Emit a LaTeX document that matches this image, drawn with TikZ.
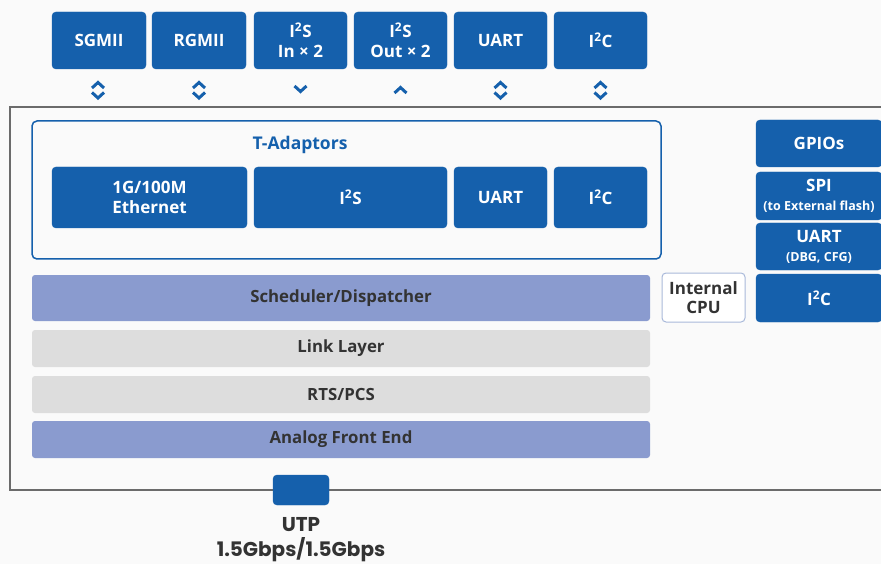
\documentclass[tikz,border=0pt]{standalone}
\usepackage{fontspec}
\setmainfont{Open Sans}
\newfontfamily\utpfont{Poppins}
\usepackage{xcolor}
\definecolor{tblue}{HTML}{1560AC}
\definecolor{schedc}{HTML}{8A9BCF}
\definecolor{layerc}{HTML}{DDDDDD}
\definecolor{framec}{HTML}{6B6B6B}
\definecolor{cpuc}{HTML}{A9B9DA}
\definecolor{txtc}{HTML}{333333}
\newcommand{\isq}{I\textsuperscript{2}}
\newcommand{\subtxt}[1]{{\fontsize{12.5}{14}\selectfont #1}}

\begin{document}
\begin{tikzpicture}[x=1pt, y=-1pt,
  blk/.style = {draw=tblue, fill=tblue, rounded corners=4pt, text=white, align=center, inner sep=0pt, font=\bfseries\fontsize{17}{20}\selectfont},
  layer/.style = {fill=#1, rounded corners=3pt, text=txtc, inner sep=0pt, minimum width=618pt, minimum height=37pt, font=\bfseries\fontsize{16.8}{19}\selectfont},
  chev/.style = {draw=tblue, line width=3pt}]
\fill[white!98!black] (0,0) rectangle (881,564);
\useasboundingbox (0,0) rectangle (881,564);

% top interfaces
\node[blk, minimum width=94pt, minimum height=57pt] (sgmii) at (99,40.5) {SGMII};
\node[blk, minimum width=94pt, minimum height=57pt] (rgmii) at (199,40.5) {RGMII};
\node[blk, minimum width=93pt, minimum height=57pt] (i2sin) at (300.5,40.5) {\isq S\\In × 2};
\node[blk, minimum width=93pt, minimum height=57pt] (i2sout) at (400.5,40.5) {\isq S\\Out × 2};
\node[blk, minimum width=93pt, minimum height=57pt] (uart) at (500.5,40.5) {UART};
\node[blk, minimum width=93pt, minimum height=57pt] (i2c) at (600.5,40.5) {\isq C};

% direction marks
\foreach \x in {98,199,500.5,600.5} {
  \draw[chev] (\x-6,88) -- (\x,82.5) -- (\x+6,88);
  \draw[chev] (\x-6,92.5) -- (\x,98) -- (\x+6,92.5);
}
\draw[chev] (300.5-6,86) -- (300.5,91.5) -- (300.5+6,86);
\draw[chev] (400.5-6,93) -- (400.5,87.5) -- (400.5+6,93);

% chip outline
\draw[framec, line width=2.5pt] (890,107) -- (10,107) -- (10,490) -- (890,490);

% T-Adaptors
\node[draw=tblue, line width=1.5pt, rounded corners=5pt, minimum width=629pt, minimum height=138pt, fill=white!98!black] (tadapt) at (346.5,190) {};
\node[text=tblue, font=\bfseries\fontsize{17.5}{20}\selectfont] (tatitle) at (300,144.5) {T-Adaptors};
\node[blk, minimum width=195pt, minimum height=61pt] (eth) at (149.5,197.5) {1G/100M\\Ethernet};
\node[blk, minimum width=193pt, minimum height=61pt] (tai2s) at (350.5,197.5) {\isq S};
\node[blk, minimum width=93pt, minimum height=61pt] (tauart) at (500.5,197.5) {UART};
\node[blk, minimum width=93pt, minimum height=61pt] (tai2c) at (600.5,197.5) {\isq C};

% peripherals
\node[blk, minimum width=126pt, minimum height=47pt] (gpio) at (819,143.5) {GPIOs};
\node[blk, minimum width=126pt, minimum height=48pt] (spi) at (819,196) {SPI\\[-1pt]\subtxt{(to External flash)}};
\node[blk, minimum width=126pt, minimum height=47pt] (duart) at (819,246.5) {UART\\[-1pt]\subtxt{(DBG, CFG)}};
\node[blk, minimum width=126pt, minimum height=48pt] (pi2c) at (819,298) {\isq C};
\node[draw=cpuc, fill=white, rounded corners=4pt, line width=1pt, minimum width=83pt, minimum height=49pt, align=center, inner sep=0pt, text=txtc, font=\bfseries\fontsize{17}{19}\selectfont] (cpu) at (703.5,297.5) {Internal\\CPU};

% stack
\node[layer=schedc, minimum height=46pt] (sched) at (341,298) {Scheduler/Dispatcher};
\node[layer=layerc] (link) at (341,348.5) {Link Layer};
\node[layer=layerc] (rts) at (341,394.5) {RTS/PCS};
\node[layer=schedc] (afe) at (341,439.5) {Analog Front End};

% line port
\node[blk, minimum width=56pt, minimum height=30pt] (utp) at (301,490) {};
\node[align=center, text=txtc, font=\utpfont\bfseries\fontsize{20}{25}\selectfont] (utplbl) at (301,540) {UTP\\1.5Gbps/1.5Gbps};
\end{tikzpicture}
\end{document}
